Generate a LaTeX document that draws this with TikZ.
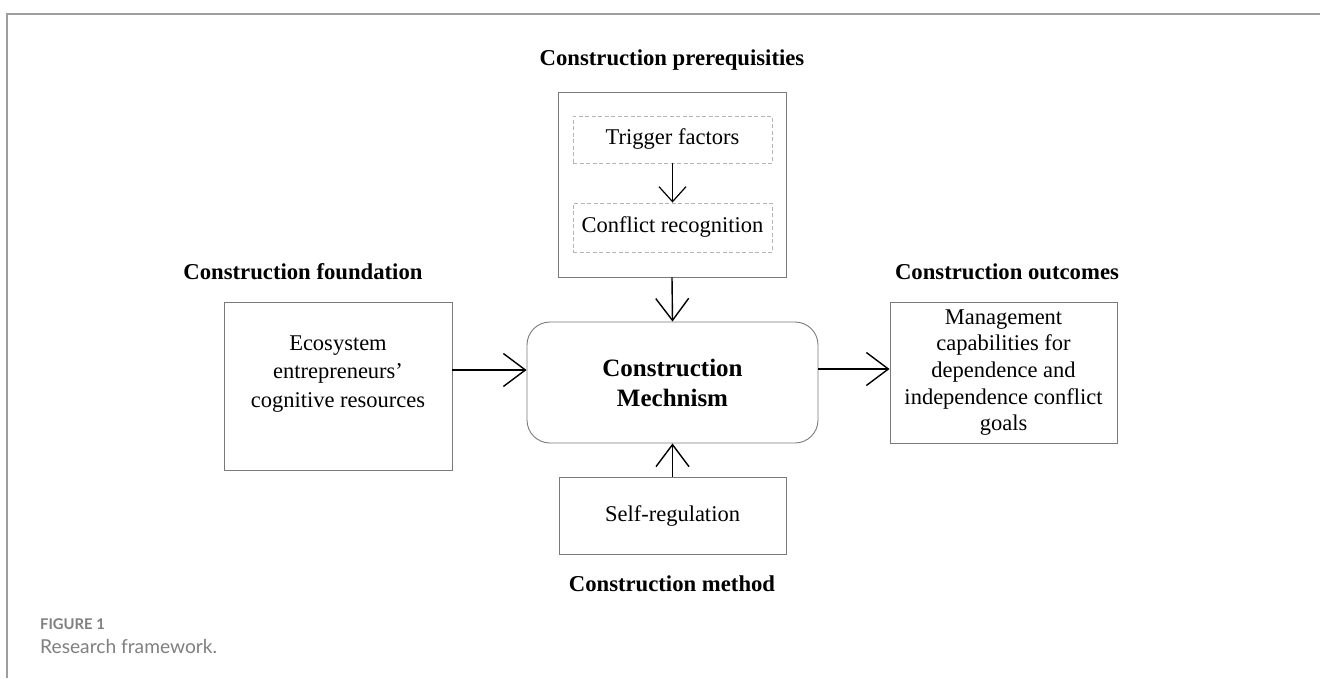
\documentclass[tikz,border=0pt]{standalone}
\usepackage{fontspec}
\setmainfont{Liberation Serif}
\newfontfamily\capfont{Lato}
\usetikzlibrary{arrows.meta}
\definecolor{boxgray}{HTML}{7A7A7A}
\definecolor{dashgray}{HTML}{B4B4B4}
\definecolor{framegray}{HTML}{9E9E9E}
\definecolor{capgray}{HTML}{7F7F7F}
\tikzset{
  box/.style={draw=boxgray, line width=0.9pt, inner sep=0pt, align=center,
    font=\fontsize{22.5}{27}\selectfont},
  dbox/.style={draw=dashgray, line width=0.9pt, dash pattern=on 4pt off 2.5pt,
    inner sep=0pt, align=center, font=\fontsize{22.5}{27}\selectfont},
  heading/.style={font=\fontsize{22.7}{27}\selectfont\bfseries, inner sep=0pt},
  flow/.style={draw=black, line width=1.4pt,
    -{Straight Barb[length=22pt,width=33pt,line width=1.4pt]}},
  smallflow/.style={draw=black, line width=1.2pt,
    -{Straight Barb[length=15pt,width=27pt,line width=1.2pt]}},
}
\begin{document}
\begin{tikzpicture}[x=1pt,y=-1pt]
\useasboundingbox (0,0) rectangle (1320,678);
% page frame
\draw[framegray, line width=1.5pt] (1320,14) -- (7,14) -- (7,678);

% headings
\node[heading] (hpre) at (672,60) {Construction prerequisities};
\node[heading] (hfound) at (303,272) {Construction foundation};
\node[heading] (hout) at (1007,272) {Construction outcomes};
\node[heading] (hmeth) at (672,584) {Construction method};

% prerequisites block with its two stages
\node[box, minimum width=228pt, minimum height=185pt] (prereq) at (672,184.5) {};
\node[dbox, minimum width=199pt, minimum height=47pt] (trig) at (672.5,139.5) {Trigger factors};
\node[dbox, minimum width=199pt, minimum height=49pt] (conf) at (672.5,227.5) {Conflict recognition};

% central mechanism
\node[box, rounded corners=23pt, minimum width=291pt, minimum height=121pt,
  font=\fontsize{25}{30}\selectfont\bfseries] (mech) at (672.5,382.5)
  {Construction\\Mechnism};

% foundation
\node[box, minimum width=228pt, minimum height=168pt] (found) at (338,386) {};
\node[align=center, inner sep=0pt, font=\fontsize{22.5}{28.5}\selectfont] (foundtxt) at (338,374)
  {Ecosystem\\entrepreneurs'\\cognitive resources};

% outcomes
\node[box, minimum width=227pt, minimum height=141pt,
  font=\fontsize{22.5}{26.7}\selectfont] (out) at (1003.5,372.5)
  {Management\\capabilities for\\dependence and\\independence conflict\\goals};

% method
\node[box, minimum width=227pt, minimum height=77pt] (meth) at (672.5,515.5) {Self-regulation};

% connectors
\draw[smallflow] (trig.south) -- (conf.north);
\draw[flow] (prereq.south) -- (mech.north);
\draw[flow] (found.east |- 0,370) -- (mech.west |- 0,370);
\draw[flow] (mech.east |- 0,369) -- (out.west |- 0,369);
\draw[flow] (meth.north) -- (mech.south);

% caption
\node[anchor=base west, inner sep=0pt, text=capgray,
  font=\capfont\fontsize{14.8}{17}\selectfont\bfseries] (figno) at (40,629) {FIGURE 1};
\node[anchor=base west, inner sep=0pt, text=capgray,
  font=\capfont\fontsize{19.2}{23}\selectfont] (figtitle) at (40,653) {Research framework.};
\end{tikzpicture}
\end{document}
